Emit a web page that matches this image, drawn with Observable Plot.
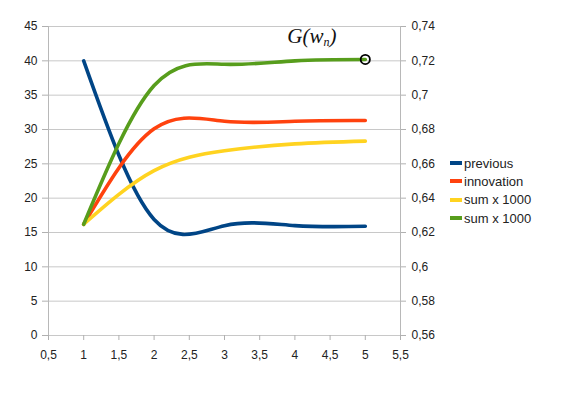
<!DOCTYPE html>
<html>
<head>
<meta charset="utf-8">
<script src="https://cdn.jsdelivr.net/npm/d3@7"></script>
<script src="https://cdn.jsdelivr.net/npm/@observablehq/plot@0.6"></script>
<style>
  html, body { margin: 0; padding: 0; background: #fff; }
  #wrap { position: relative; width: 571px; height: 397px; overflow: hidden; }
  #legend { position: absolute; left: 450px; top: 154px; font-family: "Liberation Sans", Arial, sans-serif; font-size: 13px; color: #222; }
  #legend .row { height: 18.3px; display: flex; align-items: center; white-space: nowrap; }
  #legend .sw { width: 12px; height: 4px; margin-right: 2px; }
</style>
</head>
<body>
<div id="wrap"><div id="legend"></div></div>
<script>
// ---- data ----
const xValues = [1, 2, 3, 4, 5];
const previous   = [40.0, 16.9, 16.0, 16.0, 15.9];
const innovation = [16.2, 30.1, 31.2, 31.2, 31.3];
const sumYellow  = [16.2, 24.0, 26.9, 27.9, 28.3];
const sumGreen   = [16.2, 36.4, 39.5, 40.0, 40.2];
const seriesNames  = ["previous", "innovation", "sum x 1000", "sum x 1000"];
const seriesColors = ["#004586", "#ff420e", "#ffd320", "#579d1c"];
const xTicks = [0.5, 1, 1.5, 2, 2.5, 3, 3.5, 4, 4.5, 5, 5.5];
const yTicks = [0, 5, 10, 15, 20, 25, 30, 35, 40, 45];
const rightTicks = [0.56, 0.58, 0.6, 0.62, 0.64, 0.66, 0.68, 0.7, 0.72, 0.74];
const annotation = [{x: 5, y: 40.2, label: "G(wn)"}];

// ---- build ----
const comma = v => String(+v.toFixed(2)).replace(".", ",");
const allSeries = [previous, innovation, sumYellow, sumGreen];
const rows = [];
allSeries.forEach((vals, i) => vals.forEach((v, j) => rows.push({x: xValues[j], y: v, s: i})));
// right axis maps linearly onto the left one (0..45 <-> 0.56..0.74)
const rToLeft = r => (r - 0.56) / (0.74 - 0.56) * 45;

const font = '"Liberation Sans", Arial, sans-serif';
const chart = Plot.plot({
  width: 571, height: 397,
  marginLeft: 48, marginRight: 171, marginTop: 26, marginBottom: 62,
  style: {fontFamily: font, fontSize: "12px", background: "transparent", overflow: "visible"},
  x: {domain: [0.5, 5.5]},
  y: {domain: [0, 45]},
  marks: [
    Plot.ruleY(yTicks, {stroke: "#c8c8c8", strokeWidth: 1}),
    Plot.ruleX([0.5, 5.5], {stroke: "#b8b8b8", strokeWidth: 1}),
    Plot.axisX(xTicks, {anchor: "bottom", tickSize: 5, tickPadding: 10, tickFormat: comma, stroke: "#b0b0b0", fill: "#222", label: null}),
    Plot.axisY(yTicks, {anchor: "left", tickSize: 6, tickPadding: 5, tickFormat: d => String(d), stroke: "#b0b0b0", fill: "#222", label: null}),
    Plot.axisY(rightTicks.map(rToLeft), {anchor: "right", tickSize: 5, tickPadding: 6, tickFormat: (d, i) => comma(rightTicks[i]), stroke: "#b0b0b0", fill: "#222", label: null}),
    ...allSeries.map((_, i) => Plot.line(rows.filter(r => r.s === i), {x: "x", y: "y", stroke: seriesColors[i], strokeWidth: 3.6, curve: "natural"})),
    Plot.dot(annotation, {x: "x", y: "y", r: 4.6, stroke: "#000", strokeWidth: 1.8, fill: "none"}),
    Plot.text(annotation, {x: "x", y: "y", text: "label", className: "annot", textAnchor: "start", dx: -78, dy: -23,
      fontFamily: '"Liberation Serif", "Times New Roman", serif', fontStyle: "italic", fontSize: 21, fill: "#111"})
  ]
});
document.getElementById("wrap").prepend(chart);

// subscript in the annotation
d3.select(chart).selectAll("g.annot text").each(function(d) {
  const t = d3.select(this);
  t.text(null);
  t.append("tspan").text("G(w");
  t.append("tspan").attr("dy", 3).attr("font-size", 12).text("n");
  t.append("tspan").attr("dy", -3).text(")");
});

// legend
const lg = d3.select("#legend");
seriesNames.forEach((n, i) => {
  const r = lg.append("div").attr("class", "row");
  r.append("div").attr("class", "sw").style("background", seriesColors[i]);
  r.append("span").text(n);
});
</script>
</body>
</html>
